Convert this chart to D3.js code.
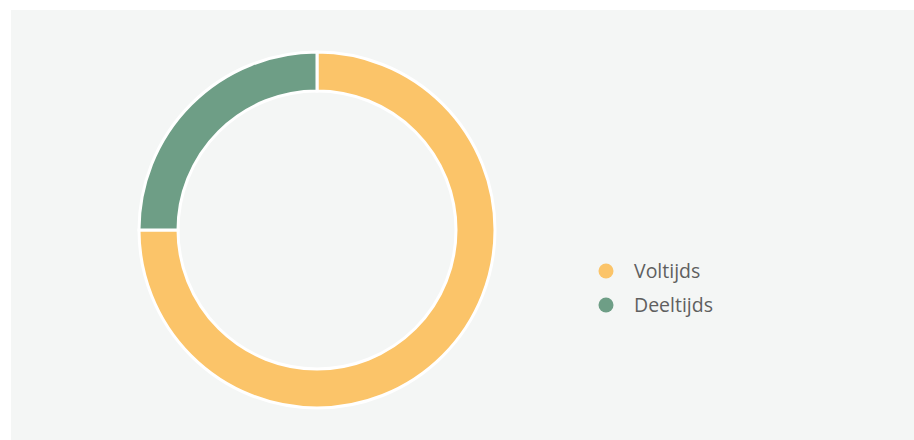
<!DOCTYPE html>
<html>
<head>
<meta charset="utf-8">
<script src="https://cdn.jsdelivr.net/npm/d3@7"></script>
<style>
  body { margin: 0; background: #ffffff; }
  svg { display: block; }
</style>
</head>
<body>
<div id="chart"></div>
<script>
// data
const categories = ['Voltijds', 'Deeltijds'];
const values = [75, 25];
const colours = ['#FBC469', '#6E9E86'];

const width = 914, height = 440;
const cx = 317, cy = 230;
const outerR = 178, innerR = 139;

const svg = d3.select('#chart').append('svg')
    .attr('width', width)
    .attr('height', height);

// panel background
svg.append('rect')
    .attr('x', 11).attr('y', 10)
    .attr('width', width - 11).attr('height', height - 10)
    .attr('fill', '#F4F6F5');

const pie = d3.pie().sort(null).value(d => d.value);
const arc = d3.arc().innerRadius(innerR).outerRadius(outerR);

const data = categories.map((c, i) => ({ name: c, value: values[i] }));
const colour = d3.scaleOrdinal().domain(categories).range(colours);

svg.append('g')
    .attr('transform', 'translate(' + cx + ',' + cy + ')')
  .selectAll('path')
    .data(pie(data))
  .enter().append('path')
    .attr('d', arc)
    .attr('fill', d => colour(d.data.name))
    .attr('stroke', '#ffffff')
    .attr('stroke-width', 3);

// legend
const legend = svg.append('g')
    .attr('transform', 'translate(606,271)');

const item = legend.selectAll('g')
    .data(categories)
  .enter().append('g')
    .attr('transform', (d, i) => 'translate(0,' + i * 34 + ')');

item.append('circle')
    .attr('r', 7.5)
    .attr('fill', d => colour(d));

item.append('text')
    .attr('x', 28)
    .attr('dy', '0.35em')
    .attr('fill', '#5f5f5f')
    .style('font-family', '"Open Sans", "Noto Sans", sans-serif')
    .style('font-size', '19.5px')
    .text(d => d);
</script>
</body>
</html>
